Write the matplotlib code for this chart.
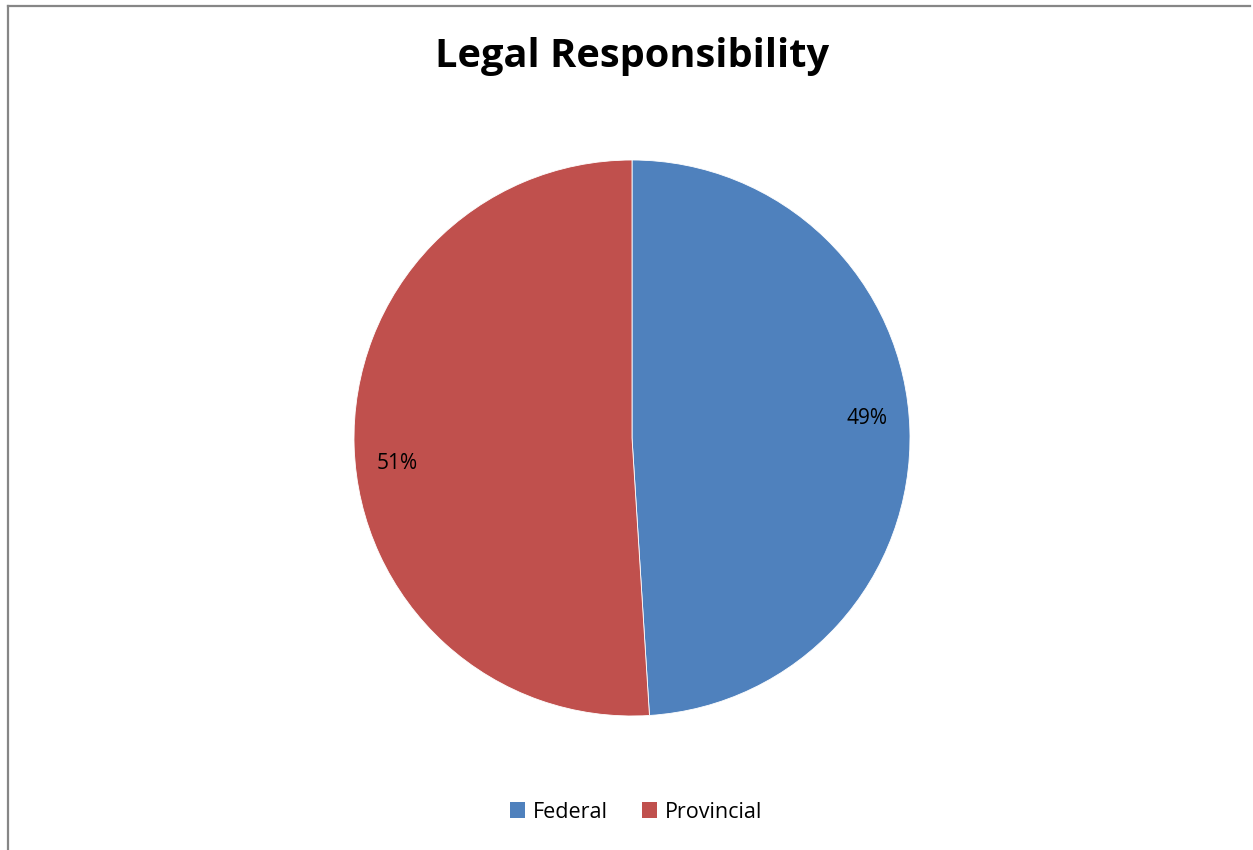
import matplotlib
matplotlib.use("Agg")
import matplotlib.pyplot as plt
from matplotlib.lines import Line2D
from matplotlib.patches import Patch

categories = ["Federal", "Provincial"]
values = [49, 51]
colors = ["#4F81BD", "#C0504D"]
title = "Legal Responsibility"

W, H = 1253, 850
fig = plt.figure(figsize=(W / 100, H / 100), dpi=100)
fig.patch.set_facecolor("white")

# chart frame (top and left edges visible)
fig.add_artist(Line2D([7.5 / W, 1250 / W], [1 - 5.5 / H, 1 - 5.5 / H], color="#868686", lw=1.6, transform=fig.transFigure))
fig.add_artist(Line2D([7.5 / W, 7.5 / W], [0, 1 - 5.5 / H], color="#868686", lw=1.6, transform=fig.transFigure))

cx, cy, r = 632, 438, 278
ax = fig.add_axes([(cx - r) / W, 1 - (cy + r) / H, 2 * r / W, 2 * r / H])
wedges, texts, autotexts = ax.pie(
    values, colors=colors, startangle=90, counterclock=False,
    autopct=lambda p: f"{p:.0f}%", pctdistance=0.85,
    wedgeprops=dict(edgecolor="white", linewidth=0.6),
    textprops=dict(fontsize=15, color="black", family="Open Sans"))
autotexts[0].set_position((0.845, 0.07))
autotexts[1].set_position((-0.845, -0.09))
ax.set_xlim(-1, 1)
ax.set_ylim(-1, 1)
ax.set_aspect("equal")
ax.axis("off")

fig.text(632 / W, 1 - 57 / H, title, ha="center", va="center", fontsize=28.6,
         fontweight="bold", family="Open Sans")

handles = [Patch(facecolor=c, edgecolor="none") for c in colors]
leg = fig.legend(handles, categories, loc="center", bbox_to_anchor=(636 / W, 1 - 812 / H),
                 ncol=2, frameon=False, prop=dict(family="Open Sans", size=15.5),
                 handlelength=0.7, handleheight=0.7, handletextpad=0.35, columnspacing=1.6)

fig.savefig("out.png", dpi=100)
